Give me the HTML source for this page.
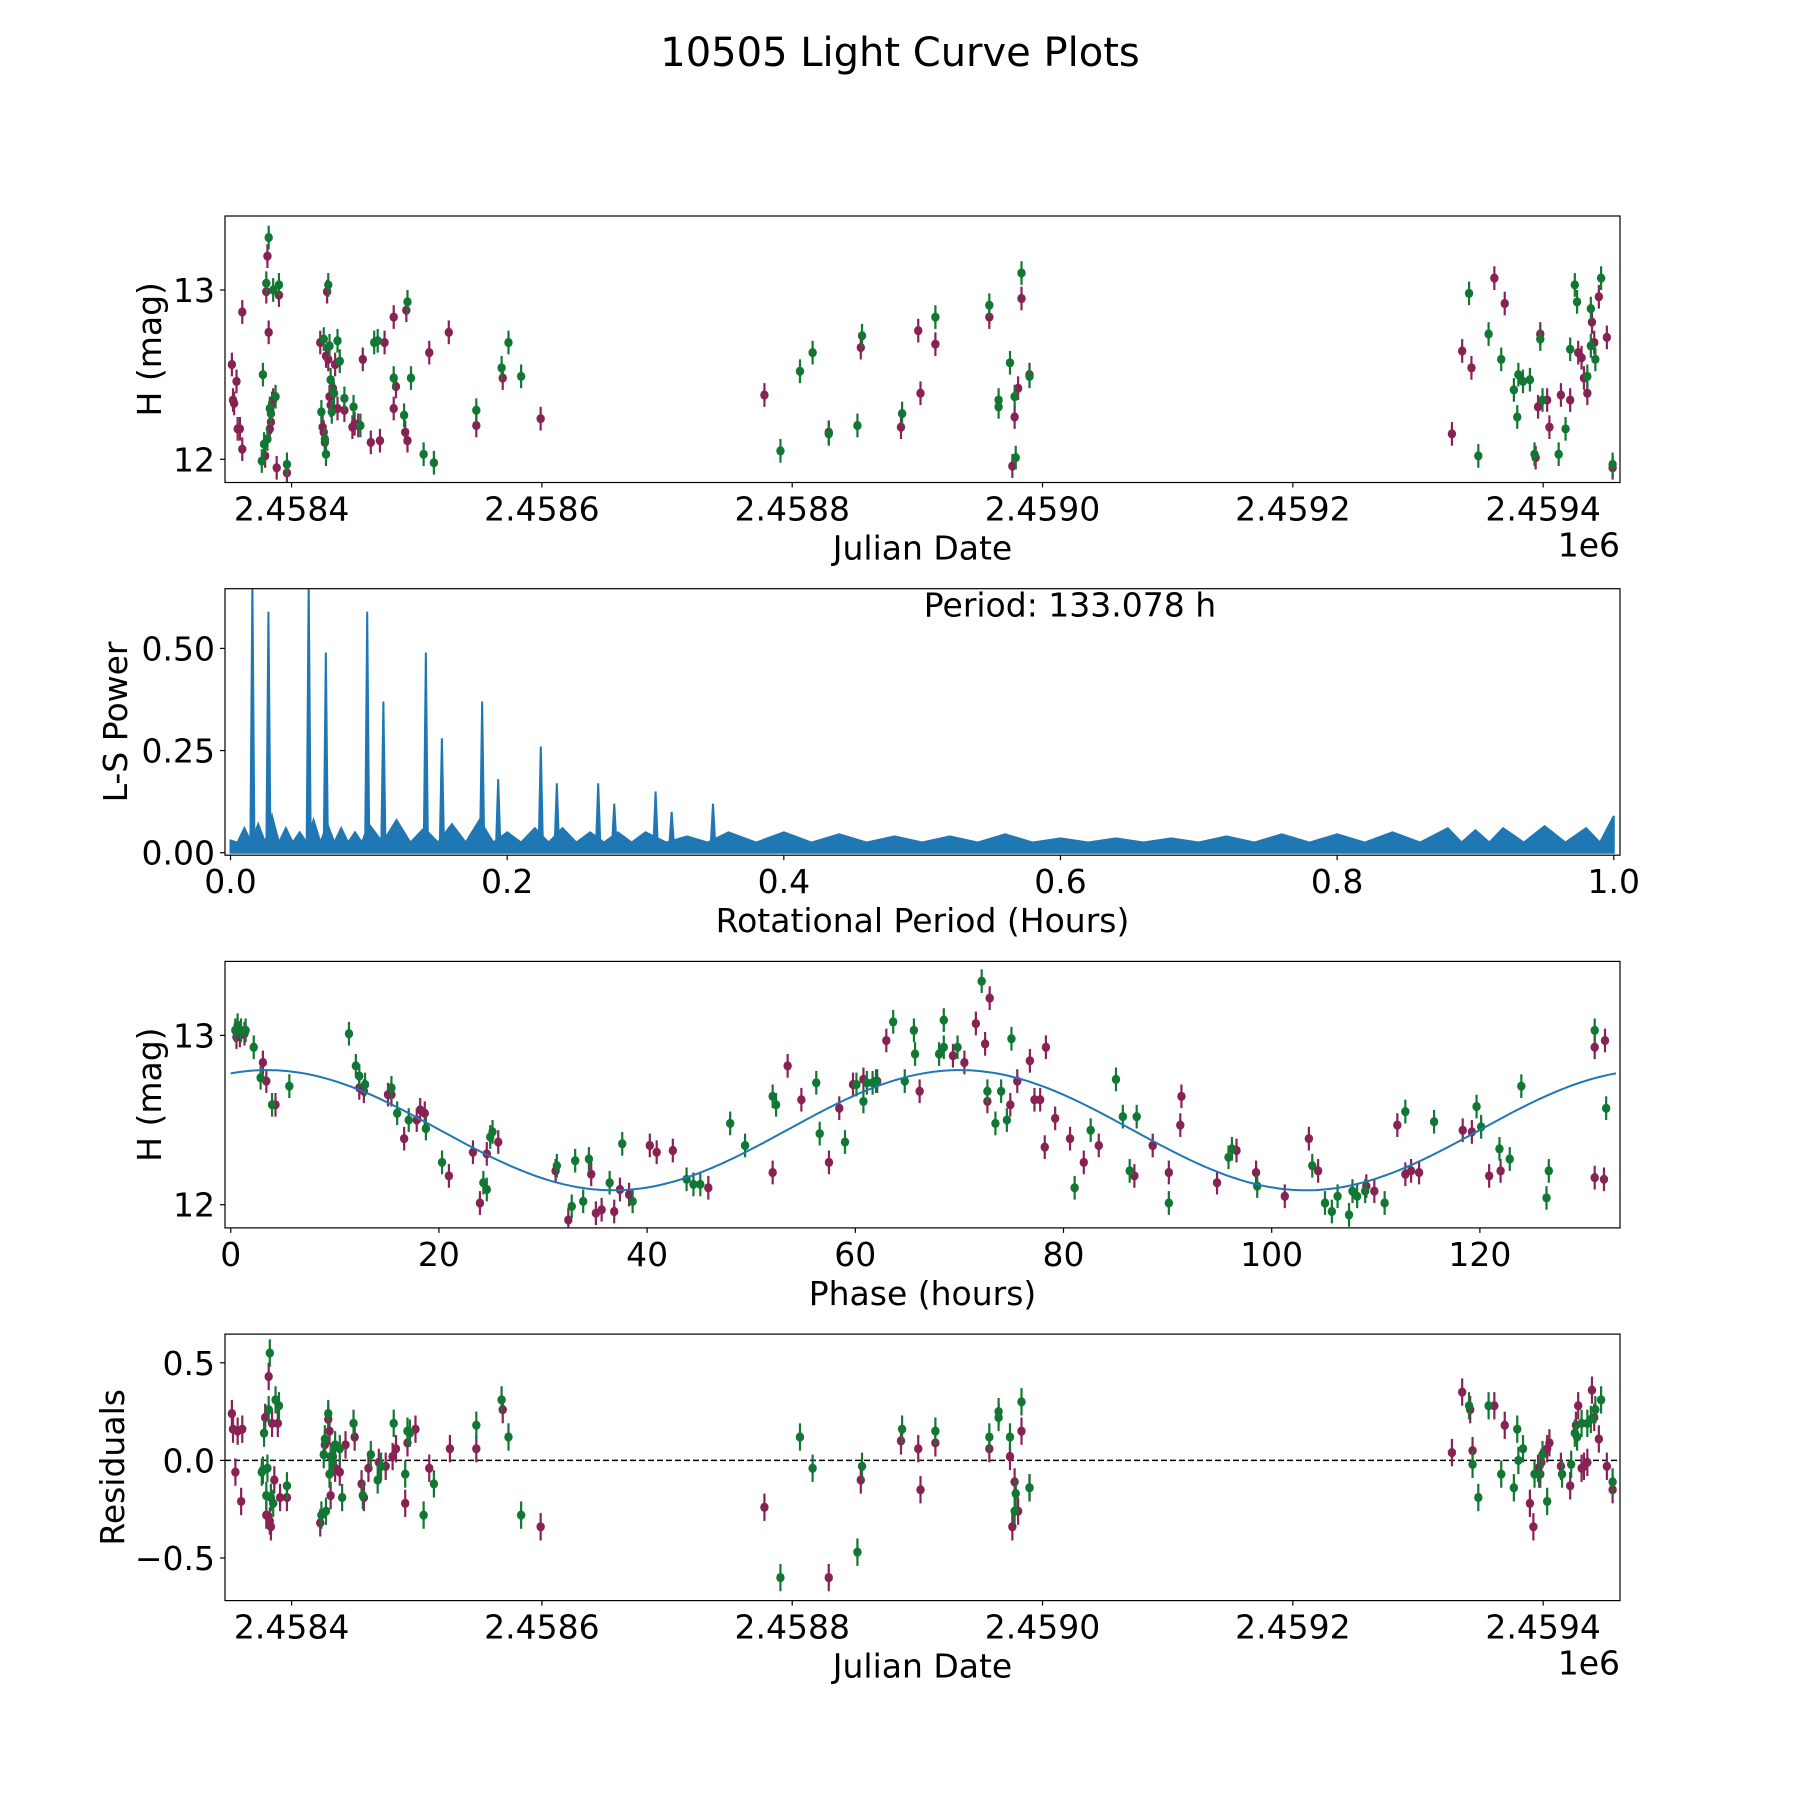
<!DOCTYPE html>
<html><head><meta charset="utf-8"><style>
html,body{margin:0;padding:0;background:#fff}
svg{display:block;font-family:"DejaVu Sans","Liberation Sans",sans-serif}
</style></head><body>
<svg id="fig" width="1800" height="1800" viewBox="0 0 1800 1800" xmlns="http://www.w3.org/2000/svg">
<rect width="1800" height="1800" fill="#fff"/>
<text x="900" y="66" font-size="40" text-anchor="middle">10505 Light Curve Plots</text>
</svg>
<script>
// ---------- data (JD offsets from 2458000, magnitudes) ----------
const lcPurple=[[352.3,12.56],[353.2,12.35],[354.1,12.33],[356.0,12.46],[356.9,12.18],[358.7,12.18],[360.6,12.87],[360.6,12.06],[378.9,12.02],[379.8,12.99],[380.7,13.20],[381.7,12.75],[382.6,12.18],[383.5,12.22],[384.4,12.33],[385.3,12.35],[388.1,11.95],[389.9,12.97],[396.3,11.92],[422.9,12.69],[424.8,12.19],[425.7,12.16],[426.6,12.10],[427.5,12.61],[428.4,12.99],[429.3,12.59],[430.3,12.37],[431.2,12.32],[433.0,12.42],[434.8,12.56],[436.7,12.30],[442.2,12.29],[448.6,12.19],[450.4,12.21],[453.2,12.20],[456.9,12.59],[463.3,12.10],[470.6,12.11],[474.3,12.69],[481.6,12.30],[481.6,12.84],[483.4,12.43],[490.8,12.16],[491.7,12.88],[492.6,12.11],[510.0,12.63],[525.6,12.75],[547.6,12.20],[568.7,12.48],[599.0,12.24],[777.8,12.38],[829.2,12.16],[854.8,12.66],[886.9,12.19],[900.7,12.76],[902.5,12.39],[914.4,12.68],[957.5,12.84],[975.9,11.96],[977.7,12.25],[980.5,12.42],[983.2,12.95],[989.6,12.50],[1327.1,12.15],[1335.3,12.64],[1342.7,12.54],[1361.0,13.07],[1369.3,12.92],[1394.0,12.01],[1395.9,12.31],[1397.7,12.74],[1403.2,12.35],[1405.0,12.19],[1414.2,12.38],[1421.6,12.35],[1428.0,12.63],[1430.7,12.60],[1432.6,12.48],[1435.3,12.39],[1439.0,12.81],[1440.8,12.69],[1444.5,12.96],[1450.9,12.72],[1455.5,11.95]];
const lcGreen=[[376.2,11.99],[377.1,12.50],[378.0,12.09],[379.8,13.04],[380.7,12.12],[381.7,13.31],[382.6,12.30],[383.5,12.27],[385.3,13.00],[387.2,12.37],[389.9,13.03],[396.3,11.97],[423.8,12.28],[425.7,12.71],[426.6,12.12],[427.5,12.03],[429.3,13.03],[430.3,12.67],[431.2,12.47],[432.1,12.28],[433.9,12.39],[436.7,12.70],[438.5,12.58],[442.2,12.36],[449.5,12.31],[455.0,12.20],[466.0,12.69],[468.8,12.70],[481.6,12.48],[489.9,12.26],[492.6,12.93],[495.4,12.48],[505.5,12.03],[513.7,11.98],[547.6,12.29],[567.8,12.54],[573.3,12.69],[583.4,12.49],[790.6,12.05],[806.2,12.52],[816.3,12.63],[829.2,12.15],[852.1,12.20],[855.8,12.73],[887.8,12.27],[914.4,12.84],[957.5,12.91],[964.9,12.35],[964.9,12.31],[974.0,12.57],[977.7,12.37],[978.6,12.01],[983.2,13.10],[989.6,12.49],[1340.8,12.98],[1348.2,12.02],[1356.4,12.74],[1366.5,12.59],[1376.6,12.41],[1379.3,12.25],[1380.2,12.50],[1383.9,12.46],[1389.4,12.47],[1393.1,12.03],[1397.7,12.71],[1399.5,12.35],[1412.4,12.03],[1417.9,12.18],[1421.6,12.65],[1425.3,13.03],[1427.1,12.93],[1435.3,12.49],[1438.1,12.89],[1438.1,12.67],[1441.7,12.59],[1446.3,13.07],[1455.5,11.97]];
const lcErr=0.07;
// periodogram
const noisePeriods=[0,0.01,0.02,0.03,0.04,0.05,0.06,0.07,0.08,0.09,0.1,0.12,0.14,0.16,0.18,0.2,0.22,0.24,0.26,0.28,0.3,0.33,0.36,0.4,0.44,0.48,0.52,0.56,0.6,0.64,0.68,0.72,0.76,0.8,0.84,0.88,0.9,0.92,0.95,0.98,1.0];
const noisePower=[0.03,0.06,0.07,0.09,0.06,0.05,0.08,0.07,0.06,0.05,0.07,0.08,0.06,0.07,0.08,0.05,0.06,0.06,0.05,0.05,0.05,0.04,0.05,0.05,0.045,0.04,0.04,0.045,0.035,0.035,0.035,0.04,0.045,0.045,0.05,0.06,0.055,0.06,0.065,0.06,0.09];
const noiseFloor=0.025;
const peakPeriods=[0.0158,0.0274,0.0565,0.0689,0.0988,0.1105,0.1412,0.1528,0.1819,0.1935,0.2243,0.2359,0.2658,0.2774,0.3073,0.3189,0.3488];
const peakPower=[0.66,0.59,0.66,0.49,0.59,0.37,0.49,0.28,0.37,0.18,0.26,0.17,0.17,0.12,0.15,0.10,0.12];
// phase-folded
const phPurple=[[0.55,12.99],[0.88,13.00],[1.32,13.01],[3.09,12.84],[3.42,12.73],[4.30,12.59],[12.35,12.69],[12.79,12.67],[15.11,12.65],[15.44,12.65],[16.66,12.39],[17.87,12.50],[18.20,12.56],[18.64,12.54],[20.96,12.17],[23.27,12.31],[23.94,12.01],[24.60,12.30],[25.70,12.37],[31.21,12.20],[32.43,11.91],[34.63,12.18],[35.08,11.95],[35.63,11.97],[36.84,11.96],[37.39,12.09],[38.27,12.06],[40.26,12.35],[40.92,12.31],[42.47,12.32],[45.88,12.10],[52.06,12.19],[53.50,12.82],[54.82,12.62],[57.47,12.25],[58.46,12.57],[59.78,12.71],[60.78,12.74],[62.10,12.73],[62.98,12.97],[66.18,12.67],[71.58,13.07],[72.47,12.95],[72.91,13.22],[69.38,12.88],[70.48,12.84],[72.69,12.61],[74.89,12.59],[75.56,12.73],[76.77,12.85],[77.21,12.62],[77.76,12.62],[78.20,12.34],[78.31,12.93],[79.20,12.51],[80.63,12.39],[81.95,12.25],[83.39,12.35],[86.81,12.17],[88.57,12.35],[90.12,12.19],[91.33,12.64],[91.22,12.47],[94.75,12.13],[96.62,12.32],[98.50,12.19],[101.26,12.05],[103.57,12.39],[104.46,12.20],[109.09,12.11],[109.86,12.08],[112.07,12.47],[112.84,12.18],[113.39,12.20],[114.16,12.19],[118.35,12.44],[119.23,12.43],[120.89,12.17],[121.99,12.20],[131.03,12.93],[132.02,12.97],[131.03,12.16],[131.92,12.15]];
const phGreen=[[0.44,13.03],[0.66,13.06],[0.99,13.03],[1.43,13.03],[2.21,12.93],[2.87,12.75],[3.97,12.59],[5.63,12.70],[11.36,13.01],[12.02,12.82],[12.35,12.76],[12.91,12.71],[15.44,12.69],[15.99,12.54],[17.10,12.50],[18.75,12.45],[20.30,12.25],[24.27,12.13],[24.60,12.09],[24.93,12.40],[25.15,12.43],[31.33,12.23],[32.76,11.99],[33.09,12.26],[33.86,12.02],[34.41,12.27],[36.40,12.13],[37.61,12.36],[38.61,12.02],[43.79,12.15],[44.45,12.12],[45.11,12.12],[47.98,12.48],[49.41,12.35],[52.06,12.64],[52.39,12.59],[56.25,12.72],[56.58,12.42],[59.01,12.37],[60.11,12.71],[60.78,12.61],[61.11,12.72],[61.66,12.72],[61.99,12.73],[63.64,13.08],[64.75,12.73],[65.74,12.89],[65.63,13.03],[68.05,12.89],[68.50,13.09],[68.50,12.93],[69.82,12.93],[72.14,13.32],[72.69,12.67],[73.46,12.48],[74.01,12.67],[74.56,12.50],[75.00,12.98],[81.07,12.10],[82.61,12.44],[85.04,12.74],[85.70,12.52],[86.36,12.20],[87.03,12.52],[90.12,12.01],[95.85,12.28],[96.18,12.33],[98.61,12.11],[103.90,12.23],[105.12,12.01],[105.78,11.96],[106.33,12.05],[107.43,11.94],[107.76,12.08],[108.21,12.05],[108.98,12.08],[110.85,12.01],[112.84,12.55],[115.60,12.49],[119.68,12.58],[120.12,12.46],[121.88,12.33],[122.87,12.27],[123.98,12.70],[126.40,12.04],[126.62,12.20],[131.03,13.03],[132.13,12.57]];
const modelParams=[12.44,0.355,66.54,3.5]; // mean, amplitude, period(h), peak phase
// residuals
const resPurple=[[352.3,0.24],[353.2,0.16],[355.1,-0.06],[356.9,0.15],[359.7,-0.21],[360.6,0.16],[378.9,0.22],[379.8,-0.28],[381.7,0.43],[382.6,-0.31],[383.5,-0.34],[384.4,0.19],[386.2,-0.10],[389.0,0.19],[390.8,-0.19],[396.3,-0.19],[422.9,-0.32],[426.6,0.08],[429.3,0.21],[430.3,0.15],[431.2,-0.18],[433.0,0.02],[434.8,-0.04],[438.5,-0.06],[443.1,0.08],[450.4,0.12],[455.9,-0.12],[457.8,-0.19],[461.4,-0.04],[469.7,-0.01],[475.2,-0.03],[480.7,0.02],[483.4,0.06],[490.8,-0.22],[492.6,0.09],[499.0,0.16],[510.0,-0.04],[526.5,0.06],[547.6,0.06],[568.7,0.26],[599.0,-0.34],[777.8,-0.24],[829.2,-0.60],[854.8,-0.10],[886.9,0.10],[900.7,0.06],[902.5,-0.15],[914.4,0.09],[957.5,0.06],[974.0,0.02],[975.9,-0.34],[977.7,-0.11],[980.5,-0.26],[983.2,0.15],[989.6,-0.14],[1327.1,0.04],[1335.3,0.35],[1341.7,0.26],[1343.6,0.05],[1361.0,0.28],[1369.3,0.18],[1389.4,-0.22],[1392.2,-0.34],[1395.9,-0.04],[1397.7,-0.07],[1398.6,-0.01],[1403.2,0.06],[1405.0,0.09],[1414.2,-0.03],[1421.6,-0.13],[1426.2,0.18],[1428.0,0.28],[1430.7,-0.04],[1432.6,-0.03],[1435.3,-0.01],[1439.0,0.36],[1440.8,0.22],[1444.5,0.11],[1450.9,-0.03],[1455.5,-0.15]];
const resGreen=[[376.2,-0.06],[377.1,-0.05],[378.0,0.14],[379.8,-0.18],[380.7,-0.04],[381.7,0.26],[382.6,0.55],[383.5,-0.19],[385.3,-0.22],[387.2,0.31],[389.9,0.28],[396.3,-0.13],[423.8,-0.28],[425.7,0.03],[426.6,0.11],[427.5,-0.26],[429.3,0.24],[430.3,-0.07],[431.2,0.02],[433.0,-0.01],[434.8,0.08],[438.5,0.06],[440.4,-0.19],[449.5,0.19],[456.9,-0.18],[463.3,0.03],[468.8,-0.10],[471.5,-0.03],[481.6,0.19],[490.8,-0.07],[492.6,0.15],[494.5,0.14],[505.5,-0.28],[513.7,-0.12],[547.6,0.18],[567.8,0.31],[573.3,0.12],[583.4,-0.28],[790.6,-0.60],[806.2,0.12],[816.3,-0.04],[852.1,-0.47],[855.8,-0.03],[887.8,0.16],[914.4,0.15],[957.5,0.12],[964.9,0.22],[964.9,0.25],[974.0,0.12],[977.7,-0.26],[978.6,-0.17],[983.2,0.30],[989.6,-0.14],[1340.8,0.28],[1343.6,-0.02],[1348.2,-0.19],[1356.4,0.28],[1366.5,-0.07],[1376.6,-0.14],[1379.3,0.16],[1380.2,0.00],[1383.9,0.06],[1393.1,-0.07],[1396.8,-0.07],[1399.5,0.03],[1403.2,-0.21],[1415.1,-0.07],[1422.4,-0.02],[1425.3,0.14],[1427.1,0.12],[1430.7,0.19],[1435.3,0.19],[1438.1,0.21],[1441.7,0.26],[1446.3,0.31],[1455.5,-0.11]];
const jdTicks=[2458400,2458600,2458800,2459000,2459200,2459400];
const jdTickLabels=["2.4584","2.4586","2.4588","2.4590","2.4592","2.4594"];
const magTicks=[12,13];
const powTicks=[0,0.25,0.5];
const powTickLabels=["0.00","0.25","0.50"];
const perTicks=[0,0.2,0.4,0.6,0.8,1.0];
const perTickLabels=["0.0","0.2","0.4","0.6","0.8","1.0"];
const phaseTicks=[0,20,40,60,80,100,120];
const resTicks=[0.5,0,-0.5];
const resTickLabels=["0.5","0.0","\u22120.5"];

// ---------- drawing ----------
const NS="http://www.w3.org/2000/svg";
const svg=document.getElementById('fig');
const GREEN="#117733",PURPLE="#882255",BLUE="#1f77b4";
function mk(tag,attrs,parent){const e=document.createElementNS(NS,tag);for(const k in attrs)e.setAttribute(k,attrs[k]);(parent||svg).appendChild(e);return e;}
const L=225,R=1620,H=266.5;
const tops=[216,588.7,961.4,1334.1];
function scale(d0,d1,r0,r1){return v=>r0+(v-d0)*(r1-r0)/(d1-d0);}
const JD0=2458346.8,JD1=2459461.4;

function axesFrame(i,name){const g=mk('g',{});return g;}
function border(g,top){const r=mk('rect',{x:L,y:top,width:R-L,height:H,fill:'none',stroke:'#000','stroke-width':1.2},g);}
function xTicks(g,top,sx,vals,labels,nm){const b=top+H;vals.forEach((v,k)=>{const x=sx(v);mk('line',{x1:x,x2:x,y1:b,y2:b+5,stroke:'#000','stroke-width':1.2},g);const t=mk('text',{x:x,y:b+38,'font-size':33,'text-anchor':'middle'},g);t.textContent=labels[k];});}
function yTicks(g,sy,vals,labels,nm){vals.forEach((v,k)=>{const y=sy(v);mk('line',{x1:L-5,x2:L,y1:y,y2:y,stroke:'#000','stroke-width':1.2},g);const t=mk('text',{x:L-10,y:y+12,'font-size':33,'text-anchor':'end'},g);t.textContent=labels[k];});}
function xLabel(g,top,txt,nm){const t=mk('text',{x:(L+R)/2,y:top+H+77,'font-size':33,'text-anchor':'middle'},g);t.textContent=txt;}
function yLabel(g,top,txt,nm,lx){const cy=top+H/2;const t=mk('text',{x:0,y:0,'font-size':33,'text-anchor':'middle',transform:`translate(${lx},${cy}) rotate(-90)`},g);t.textContent=txt;}
function offset(g,top){const t=mk('text',{x:R,y:top+H+74,'font-size':33,'text-anchor':'end'},g);t.textContent='1e6';}
function clip(id,top){const c=mk('clipPath',{id:id});mk('rect',{x:L,y:top,width:R-L,height:H},c);}
function points(g,data,sx,sy,err,color,nm){data.forEach(p=>{const x=sx(p[0]),y=sy(p[1]);const e=Math.abs(sy(p[1]+err)-y);
 const ln=mk('line',{x1:x,x2:x,y1:y-e,y2:y+e,stroke:color,'stroke-width':2.2},g);
 const c=mk('ellipse',{cx:x,cy:y,rx:4.2,ry:4.6,fill:color},g);});}

// Panel 1
(function(){const top=tops[0];const g=axesFrame(0,'light-curve-panel');clip('c1',top);
 const sx=v=>scale(JD0,JD1,L,R)(v),sy=scale(11.863,13.437,top+H,top);
 const pg=mk('g',{'clip-path':'url(#c1)'},g);
 points(pg,lcPurple,d=>sx(2458000+d),sy,lcErr,PURPLE,'purple');
 points(pg,lcGreen,d=>sx(2458000+d),sy,lcErr,GREEN,'green');
 border(g,top);xTicks(g,top,sx,jdTicks,jdTickLabels,'x');yTicks(g,sy,magTicks,magTicks.map(String),'y');
 xLabel(g,top,'Julian Date','x-axis-title');yLabel(g,top,'H (mag)','y-axis-title',161);offset(g,top);})();

// Panel 2
(function(){const top=tops[1];const g=axesFrame(1,'periodogram-panel');clip('c2',top);
 const sx=scale(-0.004,1.0045,L,R),sy=scale(-0.006,0.646,top+H,top);
 const pg=mk('g',{'clip-path':'url(#c2)'},g);
 let d=`M${sx(noisePeriods[0])},${sy(0)}`;
 noisePeriods.forEach((p,k)=>{if(k>0){const pm=(noisePeriods[k-1]+p)/2;d+=` L${sx(pm)},${sy(noiseFloor)}`;}d+=` L${sx(p)},${sy(noisePower[k])}`;});
 d+=` L${sx(noisePeriods[noisePeriods.length-1])},${sy(0)} Z`;
 const band=mk('path',{d:d,fill:BLUE,stroke:BLUE,'stroke-width':2},pg);
 peakPeriods.forEach((p,k)=>{const x=sx(p);const ln=mk('path',{d:`M${x-2},${sy(0.03)} L${x},${sy(peakPower[k])} L${x+2},${sy(0.03)} Z`,fill:BLUE,stroke:BLUE,'stroke-width':2},pg);});
 border(g,top);xTicks(g,top,sx,perTicks,perTickLabels,'x');yTicks(g,sy,powTicks,powTickLabels,'y');
 xLabel(g,top,'Rotational Period (Hours)','x-axis-title');yLabel(g,top,'L-S Power','y-axis-title',127);
 const t=mk('text',{x:1070,y:top+28,'font-size':33,'text-anchor':'middle'},g);t.textContent='Period: 133.078 h';})();

// Panel 3
(function(){const top=tops[2];const g=axesFrame(2,'phase-panel');clip('c3',top);
 const sx=scale(-0.55,133.46,L,R),sy=scale(11.863,13.437,top+H,top);
 const pg=mk('g',{'clip-path':'url(#c3)'},g);
 points(pg,phPurple,sx,sy,lcErr,PURPLE,'purple');points(pg,phGreen,sx,sy,lcErr,GREEN,'green');
 let d='';for(let k=0;k<=300;k++){const p=k*133.078/300;const m=modelParams[0]+modelParams[1]*Math.cos(2*Math.PI*(p-modelParams[3])/modelParams[2]);d+=(k?' L':'M')+sx(p).toFixed(1)+','+sy(m).toFixed(1);}
 const c=mk('path',{d:d,fill:'none',stroke:BLUE,'stroke-width':2},pg);
 border(g,top);xTicks(g,top,sx,phaseTicks,phaseTicks.map(String),'x');yTicks(g,sy,magTicks,magTicks.map(String),'y');
 xLabel(g,top,'Phase (hours)','x-axis-title');yLabel(g,top,'H (mag)','y-axis-title',161);})();

// Panel 4
(function(){const top=tops[3];const g=axesFrame(3,'residuals-panel');clip('c4',top);
 const sx=scale(JD0,JD1,L,R),sy=scale(-0.718,0.647,top+H,top);
 const pg=mk('g',{'clip-path':'url(#c4)'},g);
 const z=mk('line',{x1:L,x2:R,y1:sy(0),y2:sy(0),stroke:'#000','stroke-width':1.5,'stroke-dasharray':'6,3'},pg);
 points(pg,resPurple,d=>sx(2458000+d),sy,lcErr,PURPLE,'purple');points(pg,resGreen,d=>sx(2458000+d),sy,lcErr,GREEN,'green');
 border(g,top);xTicks(g,top,sx,jdTicks,jdTickLabels,'x');yTicks(g,sy,resTicks,resTickLabels,'y');
 xLabel(g,top,'Julian Date','x-axis-title');yLabel(g,top,'Residuals','y-axis-title',124);offset(g,top);})();
</script>
</body></html>
